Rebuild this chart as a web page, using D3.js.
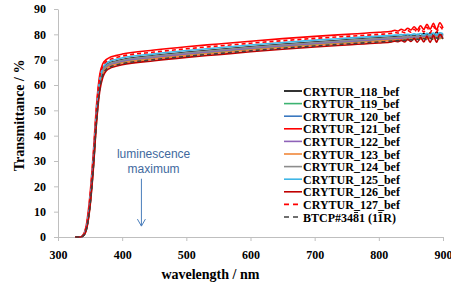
<!DOCTYPE html>
<html>
<head>
<meta charset="utf-8">
<script src="https://cdn.jsdelivr.net/npm/d3@7"></script>
<style>
  body { margin: 0; background: #fff; }
  .axis path, .axis line { stroke: #bfbfbf; }
  .axis text { font-family: "Liberation Serif", "Times New Roman", serif; font-weight: bold; font-size: 12px; fill: #000; }
  .title { font-family: "Liberation Serif", "Times New Roman", serif; font-weight: bold; font-size: 14px; }
  .legend text { font-family: "Liberation Serif", "Times New Roman", serif; font-weight: bold; font-size: 12px; }
  .note { font-family: "Liberation Sans", Arial, sans-serif; font-size: 12px; fill: #41699e; }
</style>
</head>
<body>
<div id="chart"></div>
<script>
// wavelength grid (nm)
var wavelengths = [327, 335, 340, 345, 350, 355, 360, 365, 370, 375, 380, 390, 400, 450, 500, 550, 600, 650, 700, 750, 800,
                   820, 825, 830, 835, 840, 845, 850, 855, 860, 865, 870, 875, 880, 885, 890, 895, 900];

var crytur118 = [0,0,0.8,4.5,14,29,48,61,66,67.8,68.6,69.4,70.0,71.6,72.9,74.0,75.1,76.1,77.0,77.8,78.6,
                 78.9,79.0,79.2,79.1,79.4,79.2,79.6,79.3,79.9,79.4,80.3,79.5,80.6,79.4,80.8,79.6,80.3];
var crytur119 = [0,0,0.7,4.0,13,27.8,46.4,59.6,65,66.8,67.6,68.4,69.0,70.6,71.9,73.0,74.1,75.1,76.0,76.8,77.6,
                 77.9,78.0,78.1,78.1,78.3,78.2,78.5,78.3,78.7,78.4,78.9,78.5,79.1,78.5,79.2,78.6,79.1];
var crytur120 = [0,0,0.8,4.3,13.6,28.5,47.2,60.4,65.6,67.4,68.2,69.0,69.6,71.2,72.5,73.6,74.7,75.7,76.6,77.4,78.2,
                 78.5,78.6,78.7,78.7,78.9,78.8,79.1,78.9,79.3,79.0,79.5,79.1,79.7,79.1,79.8,79.2,79.7];
var crytur121 = [0,0,1.2,6,17,33,52,64,68.5,70.0,70.8,71.6,72.2,73.8,75.1,76.2,77.3,78.3,79.2,80.0,80.8,
                 81.2,81.6,81.3,82.0,81.5,82.4,81.7,83.0,81.8,83.4,81.9,84.0,82.0,84.4,81.8,84.6,82.5];
var crytur122 = [0,0,0.7,4.2,13.4,28.2,46.9,60.1,65.4,67.2,68.0,68.8,69.4,71.0,72.3,73.4,74.5,75.5,76.4,77.2,78.0,
                 78.3,78.4,78.5,78.5,78.7,78.6,78.9,78.7,79.1,78.8,79.3,78.9,79.5,78.9,79.6,79.0,79.5];
var crytur123 = [0,0,0.7,3.9,12.8,27.5,46,59.2,64.7,66.5,67.3,68.1,68.7,70.3,71.6,72.7,73.8,74.8,75.7,76.5,77.3,
                 77.6,77.7,77.8,77.8,78.0,77.9,78.2,78.0,78.4,78.1,78.6,78.2,78.8,78.2,78.9,78.3,78.8];
var crytur124 = [0,0,0.8,4.4,13.8,28.8,47.6,60.7,65.8,67.6,68.4,69.2,69.8,71.4,72.7,73.8,74.9,75.9,76.8,77.6,78.4,
                 78.7,78.8,78.9,78.9,79.1,79.0,79.3,79.1,79.5,79.2,79.7,79.3,79.9,79.3,80.0,79.4,79.9];
var crytur125 = [0,0,0.9,4.9,15,30.5,49.5,62,66.8,68.5,69.3,70.1,70.7,72.3,73.6,74.7,75.8,76.8,77.7,78.5,79.3,
                 79.6,79.7,79.7,79.9,79.8,80.0,79.8,80.2,79.9,80.3,79.8,80.4,79.9,80.5,79.8,80.6,80.2];
var crytur126 = [0,0,0.6,3.6,12.2,26.6,45,57.5,63.2,65.5,66.5,67.4,68.0,69.6,70.9,72.0,73.1,74.1,75.0,75.8,76.6,
                 77.0,77.3,77.1,77.6,77.0,78.0,77.2,78.4,76.9,78.8,77.0,79.2,76.8,79.6,76.9,80.0,78.2];
var crytur127 = [0,0,1.0,5.4,15.8,31.5,50.5,63,67.5,69.2,70.0,70.8,71.4,73.0,74.3,75.4,76.5,77.5,78.4,79.2,80.0,
                 80.4,80.7,80.5,81.1,80.6,81.5,80.8,82.0,80.7,82.4,80.9,82.8,80.6,83.2,80.9,83.0,81.6];
var btcp3481  = [0,0,0.6,3.8,12.6,27.2,45.6,58.6,64.2,66.1,67.0,67.8,68.4,70.0,71.3,72.4,73.5,74.5,75.4,76.2,77.0,
                 77.3,77.4,77.5,77.5,77.7,77.6,77.9,77.7,78.1,77.8,78.3,77.9,78.5,77.9,78.6,78.0,78.5];

var seriesNames = ["CRYTUR_118_bef", "CRYTUR_119_bef", "CRYTUR_120_bef", "CRYTUR_121_bef", "CRYTUR_122_bef",
                   "CRYTUR_123_bef", "CRYTUR_124_bef", "CRYTUR_125_bef", "CRYTUR_126_bef", "CRYTUR_127_bef", "BTCP#3481 (11R)"];
var seriesValues = [crytur118, crytur119, crytur120, crytur121, crytur122, crytur123, crytur124, crytur125, crytur126, crytur127, btcp3481];
var seriesColors = ["#000000", "#3cb371", "#3a78c0", "#ff0000", "#8e62b8", "#f0883a", "#8c8c8c", "#3fb6e6", "#c00000", "#ff0000", "#404040"];
var seriesDashed = [false, false, false, false, false, false, false, false, false, true, true];
// characters carrying an overbar in the BTCP label (Miller index notation)
var overbarChars = [7, 12];

var xTicks = [300, 400, 500, 600, 700, 800, 900];
var yTicks = [0, 10, 20, 30, 40, 50, 60, 70, 80, 90];

// annotation: luminescence maximum
var lumWavelength = 430;
var lumArrow = [23, 4.3];
var lumLabel = ["luminescence", "maximum"];

var width = 451, height = 288;
var margin = {left: 58, top: 9, right: 8, bottom: 51};
var w = width - margin.left - margin.right, h = height - margin.top - margin.bottom;

var svg = d3.select("#chart").append("svg")
    .attr("width", width)
    .attr("height", height);

var g = svg.append("g").attr("transform", "translate(" + margin.left + "," + margin.top + ")");

var x = d3.scaleLinear().domain([300, 900]).range([0, w]);
var y = d3.scaleLinear().domain([0, 90]).range([h, 0]);

g.append("g").attr("class", "axis")
    .attr("transform", "translate(0," + h + ")")
    .call(d3.axisBottom(x).tickValues(xTicks).tickSize(4).tickSizeOuter(0).tickPadding(9.5));

g.append("g").attr("class", "axis")
    .call(d3.axisLeft(y).tickValues(yTicks).tickSize(4).tickSizeOuter(0).tickPadding(8));

var line = d3.line()
    .x(function(d, i) { return x(wavelengths[i]); })
    .y(function(d) { return y(d); })
    .curve(d3.curveMonotoneX);

seriesValues.forEach(function(vals, i) {
    g.append("path")
        .datum(vals)
        .attr("fill", "none")
        .attr("stroke", seriesColors[i])
        .attr("stroke-width", 1.6)
        .attr("stroke-linejoin", "round")
        .attr("stroke-dasharray", seriesDashed[i] ? "4,3" : null)
        .attr("d", line);
});

// axis titles
svg.append("text").attr("class", "title")
    .attr("x", margin.left + x(550) - 8)
    .attr("y", 279)
    .attr("text-anchor", "middle")
    .text("wavelength / nm");

svg.append("text").attr("class", "title")
    .attr("transform", "translate(24," + (margin.top + y(48)) + ") rotate(-90)")
    .attr("text-anchor", "middle")
    .text("Transmittance / %");

// annotation
g.selectAll(".note").data(lumLabel).enter().append("text")
    .attr("class", "note")
    .attr("x", x(449))
    .attr("y", function(d, i) { return 149 + i * 15; })
    .attr("text-anchor", "middle")
    .text(function(d) { return d; });

var ax = x(lumWavelength);
g.append("line")
    .attr("x1", ax).attr("x2", ax)
    .attr("y1", y(lumArrow[0])).attr("y2", y(lumArrow[1]))
    .attr("stroke", "#4a7ebb").attr("stroke-width", 1);
g.append("path")
    .attr("d", "M" + (ax - 4) + "," + (y(lumArrow[1]) - 7) + "L" + ax + "," + y(lumArrow[1]) + "L" + (ax + 4) + "," + (y(lumArrow[1]) - 7))
    .attr("fill", "none").attr("stroke", "#4a7ebb").attr("stroke-width", 1);

// legend
var legend = svg.append("g").attr("class", "legend").attr("transform", "translate(284,91)");
var rows = legend.selectAll("g").data(seriesNames).enter().append("g")
    .attr("transform", function(d, i) { return "translate(0," + (i * 12.6) + ")"; });

rows.append("line")
    .attr("x1", 0).attr("x2", 18)
    .attr("stroke", function(d, i) { return seriesColors[i]; })
    .attr("stroke-width", 1.6)
    .attr("stroke-dasharray", function(d, i) { return seriesDashed[i] ? "5,4" : null; });

rows.each(function(d) {
    var row = d3.select(this);
    var t = row.append("text").attr("x", 19).attr("y", 4.5).text(d);
    if (d.indexOf("BTCP") === 0) {
        var node = t.node();
        overbarChars.forEach(function(ci) {
            var box = node.getExtentOfChar(ci);
            row.append("line")
                .attr("x1", box.x + 1).attr("x2", box.x + box.width - 1)
                .attr("y1", box.y + 2).attr("y2", box.y + 2)
                .attr("stroke", "#000").attr("stroke-width", 0.9);
        });
    }
});
</script>
</body>
</html>
